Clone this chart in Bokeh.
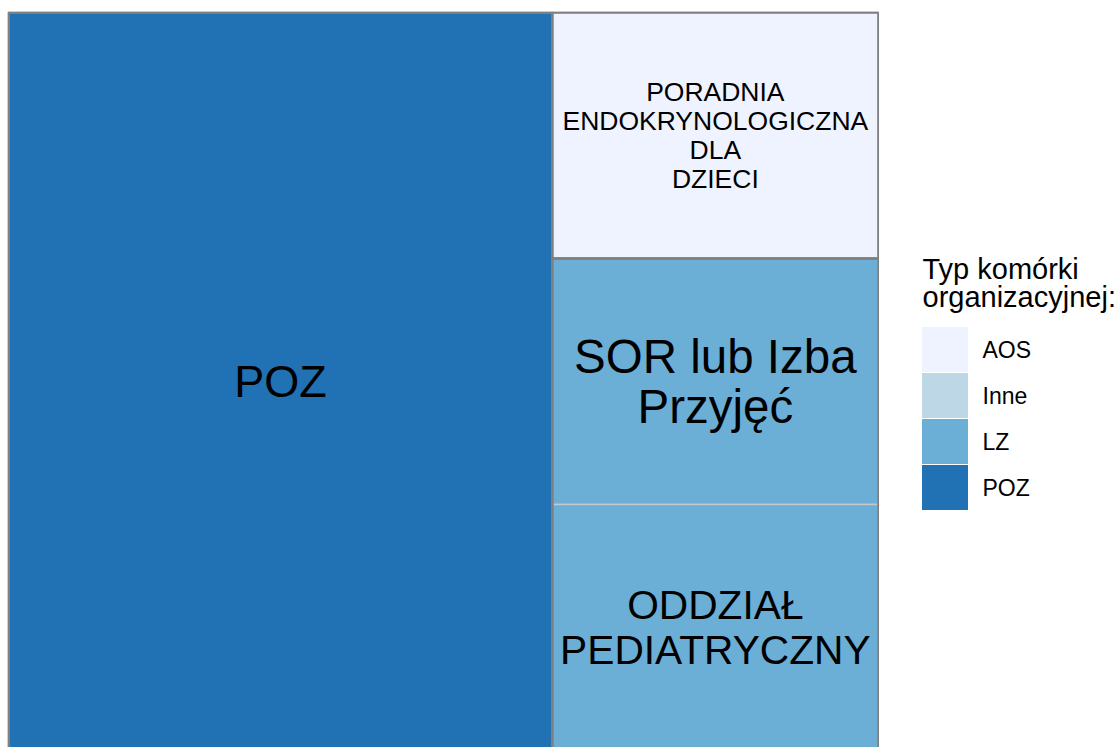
from bokeh.plotting import figure
from bokeh.layouts import row
from bokeh.models import ColumnDataSource, Range1d
from bokeh.core.properties import value
from bokeh.embed import file_html
from bokeh.resources import INLINE

# ---- data ----
labels = ["POZ", "PORADNIA\nENDOKRYNOLOGICZNA\nDLA\nDZIECI", "SOR lub Izba\nPrzyjęć", "ODDZIAŁ\nPEDIATRYCZNY"]
types = ["POZ", "AOS", "LZ", "LZ"]
values = [5, 1, 1, 1]
legend_cats = ["AOS", "Inne", "LZ", "POZ"]
legend_title = "Typ komórki\norganizacyjnej:"

# ---- styles ----
palette = {"AOS": "#eff3ff", "Inne": "#bdd7e7", "LZ": "#6baed6", "POZ": "#2171b5"}
label_sizes = ["45px", "26.5px", "47.5px", "40.7px"]
FONT = "Liberation Sans"

# ---- layout (first item as a full-height column, the rest stacked) ----
total = float(sum(values))
x0s, x1s, y0s, y1s = [], [], [], []
first_w = values[0] / total
x0s.append(0.0); x1s.append(first_w); y0s.append(0.0); y1s.append(1.0)
rest = sum(values[1:])
top = 1.0
for v in values[1:]:
    h = v / rest
    x0s.append(first_w); x1s.append(1.0); y1s.append(top); y0s.append(top - h)
    top -= h

src = ColumnDataSource(dict(
    left=x0s, right=x1s, bottom=y0s, top=y1s,
    cx=[(a + b) / 2 for a, b in zip(x0s, x1s)],
    cy=[(a + b) / 2 for a, b in zip(y0s, y1s)],
    label=labels, size=label_sizes,
    color=[palette[t] for t in types],
))

# group extents
groups = []
for t in dict.fromkeys(types):
    idx = [i for i, tt in enumerate(types) if tt == t]
    groups.append((min(x0s[i] for i in idx), max(x1s[i] for i in idx),
                   min(y0s[i] for i in idx), max(y1s[i] for i in idx)))
gsrc = ColumnDataSource(dict(left=[g[0] for g in groups], right=[g[1] for g in groups],
                             bottom=[g[2] for g in groups], top=[g[3] for g in groups]))

TOP = 11
W, H = 879, 747
p = figure(width=W, height=H, output_backend="svg", toolbar_location=None,
           x_range=Range1d(-0.0012, 1.0012), y_range=Range1d(0.004, 1.0015),
           min_border_left=7, min_border_right=0, min_border_top=TOP, min_border_bottom=0)
p.axis.visible = False
p.grid.visible = False
p.outline_line_color = None
p.background_fill_color = "white"

p.quad(left="left", right="right", bottom="bottom", top="top", source=src,
       fill_color="color", line_color="#c8c8c8", line_width=1.5)
p.quad(left="left", right="right", bottom="bottom", top="top", source=gsrc,
       fill_color=None, line_color="#808080", line_width=2.5)
p.text(x="cx", y="cy", text="label", source=src, text_font=value(FONT),
       text_font_size="size", text_align="center", text_baseline="middle",
       text_color="black", text_line_height=0.96)

# ---- legend figure ----
LW = 1117 - W
lg = figure(width=LW, height=H, output_backend="svg", toolbar_location=None,
            x_range=Range1d(0, LW), y_range=Range1d(H, TOP),
            min_border_left=0, min_border_right=0, min_border_top=TOP, min_border_bottom=0)
lg.axis.visible = False
lg.grid.visible = False
lg.outline_line_color = None

box_h = 46
ys = [349 + i * box_h for i in range(len(legend_cats))]
lsrc = ColumnDataSource(dict(y=ys, cat=legend_cats, color=[palette[c] for c in legend_cats]))
lg.rect(x=65.5, y="y", width=47, height=box_h, source=lsrc, fill_color="color",
        line_color="white", line_width=1)
lg.text(x=103, y="y", text="cat", source=lsrc, text_font=value(FONT),
        text_font_size="23px", text_baseline="middle", text_align="left", text_color="black")
lg.text(x=43, y=[252], text=[legend_title], text_font=value(FONT),
        text_font_size="29px", text_baseline="top", text_align="left",
        text_color="black", text_line_height=0.9)

layout = row(p, lg, spacing=0)
open("out.html", "w").write(file_html(layout, INLINE))
